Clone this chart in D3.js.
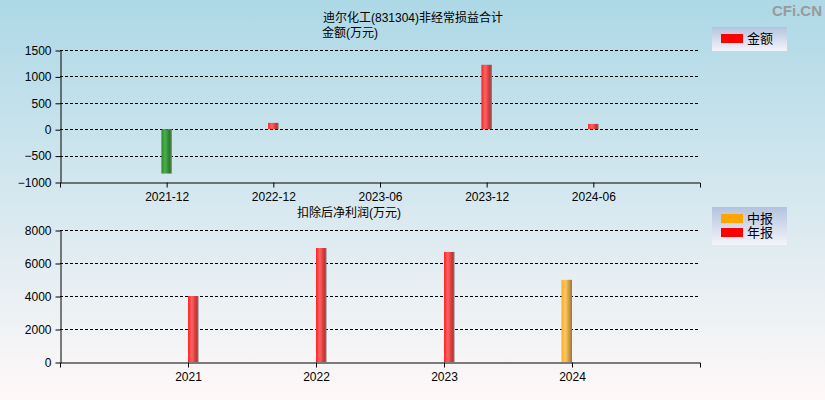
<!DOCTYPE html>
<html>
<head>
<meta charset="utf-8">
<script src="https://cdn.jsdelivr.net/npm/d3@7"></script>
<style>
  body { margin: 0; }
  svg text { font-family: "Liberation Sans", Arial, "Noto Sans CJK SC", sans-serif; }
</style>
</head>
<body>
<script>
// data
const topCats = ["2021-12", "2022-12", "2023-06", "2023-12", "2024-06"];
const topVals = [-840, 120, null, 1220, 100];
const topTicks = [1500, 1000, 500, 0, -500, -1000];

const botCats = ["2021", "2022", "2023", "2024"];
const botVals = [4000, 6910, 6670, 4980];
const botKinds = ["年报", "年报", "年报", "中报"];
const botTicks = [8000, 6000, 4000, 2000, 0];

const W = 825, H = 400;
const left = 60, right = 700;
const barW = 10.5;

const svg = d3.select("body").append("svg")
    .attr("width", W)
    .attr("height", H);

const defs = svg.append("defs");

// background
const bg = defs.append("linearGradient").attr("id", "bg")
    .attr("x1", 0).attr("y1", 0).attr("x2", 0).attr("y2", 1);
bg.append("stop").attr("offset", "0%").attr("stop-color", "#add8e6");
bg.append("stop").attr("offset", "100%").attr("stop-color", "#fff8f8");
svg.append("rect").attr("width", W).attr("height", H).attr("fill", "url(#bg)");

// cylinder-ish bar fills
function barGrad(id, c0, c1, c2, c3) {
    const g = defs.append("linearGradient").attr("id", id)
        .attr("x1", 0).attr("y1", 0).attr("x2", 1).attr("y2", 0);
    g.append("stop").attr("offset", "0%").attr("stop-color", c0);
    g.append("stop").attr("offset", "35%").attr("stop-color", c1);
    g.append("stop").attr("offset", "80%").attr("stop-color", c2);
    g.append("stop").attr("offset", "100%").attr("stop-color", c3);
}
barGrad("gRed", "#ff2020", "#ff6464", "#c83232", "#7a7a7a");
barGrad("gGreen", "#2a8a2a", "#4caf4c", "#267a26", "#8a8a8a");
barGrad("gOrange", "#ffa820", "#ffc868", "#c89030", "#7a7a7a");

const lg = defs.append("linearGradient").attr("id", "legendBg")
    .attr("x1", 0).attr("y1", 0).attr("x2", 0).attr("y2", 1);
lg.append("stop").attr("offset", "0%").attr("stop-color", "#b3c3df");
lg.append("stop").attr("offset", "100%").attr("stop-color", "#f4f4fa");

// watermark
svg.append("text")
    .attr("x", 822).attr("y", 16)
    .attr("text-anchor", "end")
    .style("font-size", "15px").style("font-weight", "bold")
    .attr("fill", "#9a9a9a")
    .text("CFi.CN");

function panel(opts) {
    const y = d3.scaleLinear().domain(opts.domain).range([opts.bottom, opts.top]);
    const x = d3.scalePoint().domain(opts.cats).range([left, right]).padding(1);
    const g = svg.append("g");

    // dashed grid
    g.selectAll(".grid")
        .data(opts.ticks.filter(d => d !== opts.domain[0]))
        .enter().append("line")
        .attr("x1", left).attr("x2", right)
        .attr("y1", d => Math.round(y(d)) + 0.5)
        .attr("y2", d => Math.round(y(d)) + 0.5)
        .attr("stroke", "#000")
        .attr("stroke-dasharray", "3,2");

    // y axis
    const ya = g.append("g")
        .attr("transform", "translate(" + (left + 0.5) + ",0.5)")
        .call(d3.axisLeft(y).tickValues(opts.ticks).tickFormat(d3.format("d"))
            .tickSize(5).tickSizeOuter(0));
    ya.select(".domain").attr("stroke", "#000");
    ya.selectAll("text").style("font-size", "12px").attr("fill", "#000").attr("dx", "-1");

    // x axis
    const xa = g.append("g")
        .attr("transform", "translate(0," + (Math.round(opts.bottom) + 0.5) + ")")
        .call(d3.axisBottom(x).tickSize(5).tickSizeOuter(5));
    xa.select(".domain").attr("stroke", "#000");
    xa.selectAll("text").style("font-size", "12px").attr("fill", "#000").attr("dy", "0.9em");

    // bars
    const data = opts.cats.map((c, i) => ({ c, v: opts.vals[i], i }))
        .filter(d => d.v != null);
    g.selectAll(".bar")
        .data(data)
        .enter().append("rect")
        .attr("x", d => x(d.c) + opts.offset(d.i))
        .attr("width", barW)
        .attr("y", d => Math.min(y(d.v), y(0)))
        .attr("height", d => Math.abs(y(d.v) - y(0)))
        .attr("fill", d => opts.fill(d.i));

    // titles
    opts.titles.forEach(t => {
        g.append("text")
            .attr("x", t.x).attr("y", t.y)
            .style("font-size", "12px")
            .attr("fill", "#000")
            .text(t.text);
    });

    // legend
    const lgd = g.append("g");
    lgd.append("rect")
        .attr("x", 712).attr("y", opts.legendTop)
        .attr("width", 75).attr("height", opts.legend.length * 14 + 10)
        .attr("fill", "url(#legendBg)");
    opts.legend.forEach((it, i) => {
        lgd.append("rect")
            .attr("x", 721).attr("y", opts.legendTop + 7 + i * 14)
            .attr("width", 22).attr("height", 9)
            .attr("fill", it.color);
        lgd.append("text")
            .attr("x", 747).attr("y", opts.legendTop + 16 + i * 14)
            .style("font-size", "13px")
            .attr("fill", "#000")
            .text(it.label);
    });
}

panel({
    cats: topCats,
    vals: topVals,
    ticks: topTicks,
    domain: [-1000, 1500],
    top: 50,
    bottom: 182,
    offset: () => -barW / 2,
    fill: i => topVals[i] < 0 ? "url(#gGreen)" : "url(#gRed)",
    titles: [
        { x: 323, y: 22, text: "迪尔化工(831304)非经常损益合计" },
        { x: 322, y: 37, text: "金额(万元)" }
    ],
    legendTop: 27,
    legend: [{ label: "金额", color: "#ff0000" }]
});

panel({
    cats: botCats,
    vals: botVals,
    ticks: botTicks,
    domain: [0, 8000],
    top: 230,
    bottom: 362,
    // 中报 sits left of the tick, 年报 right of it
    offset: i => botKinds[i] === "中报" ? -barW : 0,
    fill: i => botKinds[i] === "中报" ? "url(#gOrange)" : "url(#gRed)",
    titles: [
        { x: 297, y: 217, text: "扣除后净利润(万元)" }
    ],
    legendTop: 207,
    legend: [{ label: "中报", color: "#ffa500" }, { label: "年报", color: "#ff0000" }]
});
</script>
</body>
</html>
